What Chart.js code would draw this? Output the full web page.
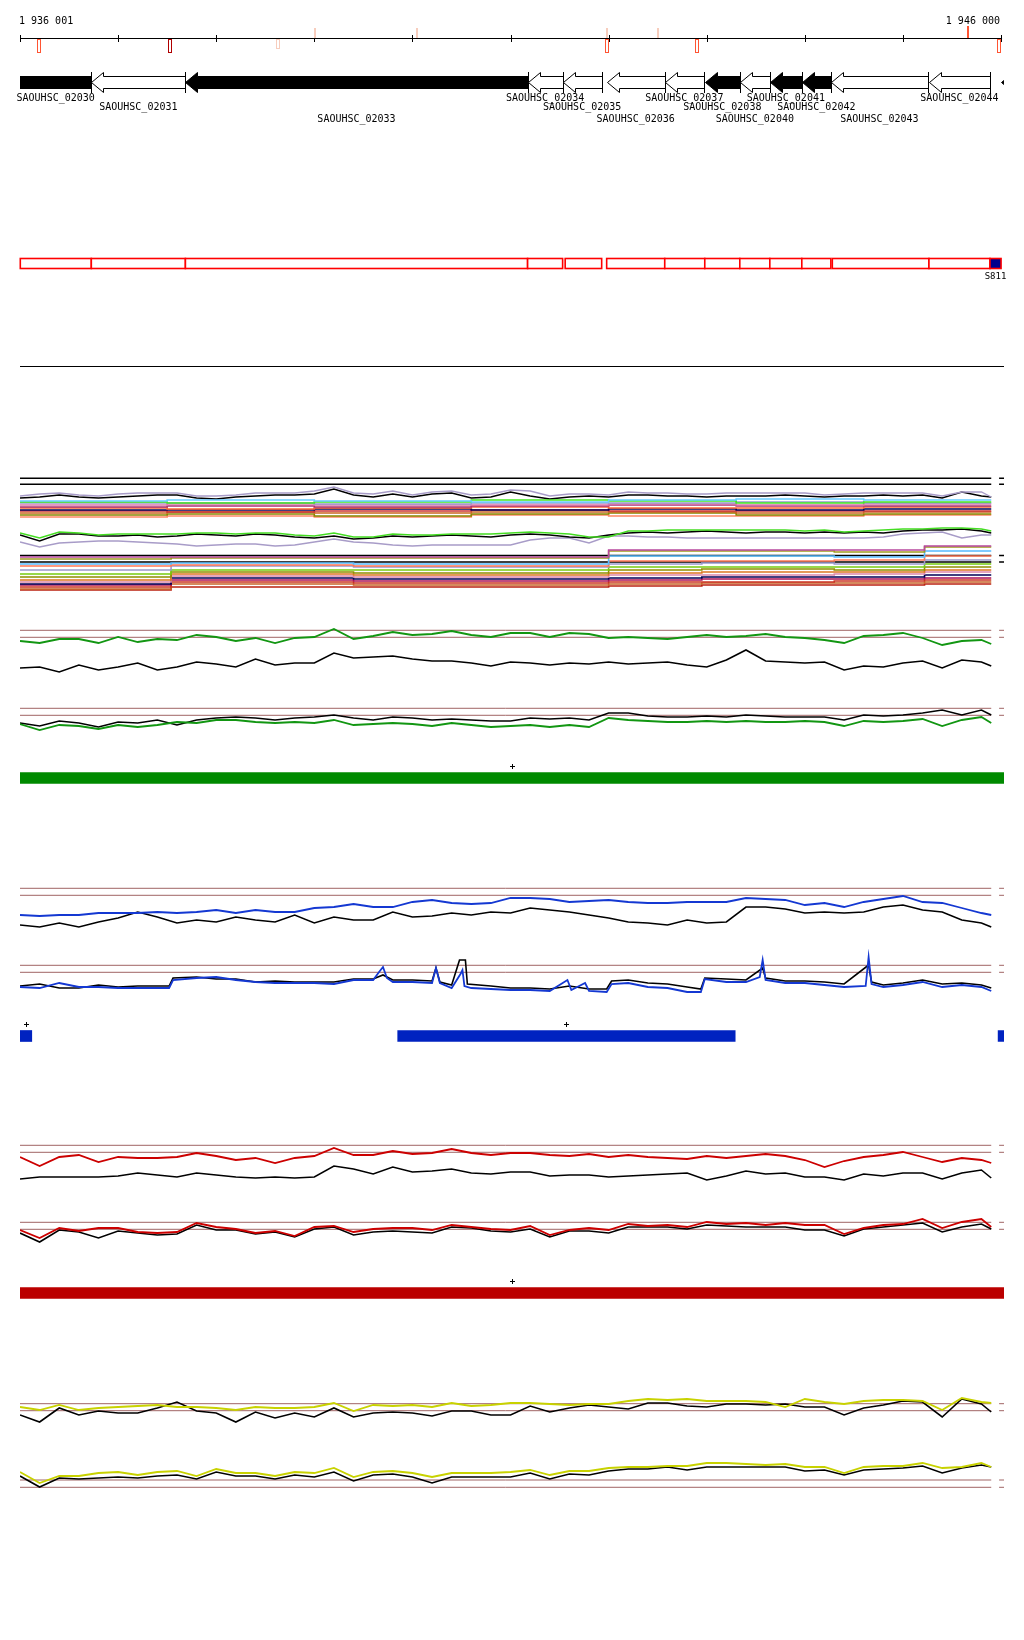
<!DOCTYPE html>
<html>
<head>
<meta charset="utf-8">
<title>SAOUHSC_02030 - SAOUHSC_02044</title>
<script src="https://cdn.jsdelivr.net/npm/chart.js"></script>
<style>
  html, body { margin: 0; padding: 0; background: #fff; }
  #page { position: relative; width: 1024px; height: 1640px; overflow: hidden; }
  #page canvas { position: absolute; left: 0; }
</style>
</head>
<body>
<div id="page"></div>
<script>
// x values are kb from the left edge of the window 1 936 001 .. 1 946 000
const regionStart = "1 936 001";
const regionEnd = "1 946 000";
const rulerTicks = [0, 1, 2, 3, 4, 5, 6, 7, 8, 9, 10];

const geneNames = ["SAOUHSC_02030", "SAOUHSC_02031", "SAOUHSC_02033", "SAOUHSC_02034", "SAOUHSC_02035",
  "SAOUHSC_02036", "SAOUHSC_02037", "SAOUHSC_02038", "SAOUHSC_02040", "SAOUHSC_02041",
  "SAOUHSC_02042", "SAOUHSC_02043", "SAOUHSC_02044", "SAOUHSC_02045"];
const geneStart = [-0.3, 0.727, 1.686, 5.174, 5.531, 5.980, 6.572, 6.980, 7.337, 7.643, 7.969, 8.265, 9.265, 10.0];
const geneEnd = [0.727, 1.686, 5.174, 5.531, 5.929, 6.572, 6.970, 7.337, 7.643, 7.969, 8.265, 9.255, 9.887, 11.0];
const geneStrand = ["-", "-", "-", "-", "-", "-", "-", "-", "-", "-", "-", "-", "-", "-"];
const geneFilled = [true, false, true, false, false, false, false, true, false, true, true, false, false, true];

// transcription start marks on the ruler
const tssPos = [0.197, 1.529, 2.630, 3.007, 4.044, 5.981, 5.981, 6.502, 6.900, 9.660, 9.984];
const tssStrand = ["-", "-", "-", "+", "+", "+", "-", "+", "-", "+", "-"];
const tssScore = [3, 4, 1, 1, 1, 1, 3, 1, 3, 3, 3];

const boxStart = [0.003, 0.727, 1.686, 5.174, 5.557, 5.980, 6.572, 6.980, 7.337, 7.643, 7.969, 8.280, 9.265, 9.887];
const boxEnd = [0.727, 1.686, 5.174, 5.531, 5.929, 6.572, 6.980, 7.337, 7.643, 7.969, 8.265, 9.265, 9.887, 10.0];
const boxKind = ["cds", "cds", "cds", "cds", "cds", "cds", "cds", "cds", "cds", "cds", "cds", "cds", "cds", "srna"];
const srnaName = "S811";

// annotation bars under each condition group (last blue one runs past the window)
const greenSegments = [[0, 10.03]];
const blueSegments = [[0, 0.12], [3.85, 7.29], [9.97, 10.6]];
const redSegments = [[0, 10.03]];

const pos = [0, 0.2, 0.4, 0.6, 0.8, 1.0, 1.2, 1.4, 1.6, 1.8, 2.0, 2.2, 2.4, 2.6, 2.8, 3.0, 3.2, 3.4, 3.6, 3.8,
  4.0, 4.2, 4.4, 4.6, 4.8, 5.0, 5.2, 5.4, 5.6, 5.8, 6.0, 6.2, 6.4, 6.6, 6.8, 7.0, 7.2, 7.4, 7.6, 7.8,
  8.0, 8.2, 8.4, 8.6, 8.8, 9.0, 9.2, 9.4, 9.6, 9.8, 9.9];

// many-condition profile
const mFlat = [121.7, 115.7, 44.5, 38];
const mWavePurple = [104,106,107,105,104,106,107,107,107,104,104,105,107,107,107,109,113,107,106,109,105,108,109,105,106,110,109,104,106,106,105,108,107,107,106,106,107,107,107,107,107,105,106,107,107,107,107,104,108,108,103];
const mWaveBlack = [102,103,105,103,102,103,104,105,105,102,101,103,104,105,105,106,111,105,103,106,103,106,107,102,103,108,104,101,103,104,103,105,105,104,104,103,104,104,104,105,104,103,104,104,105,104,105,102,108,104,103];
const mGreen = [67,62,68,67,65,66,66,66,66,67,67,66,67,67,65,64,67,63,63,66,65,65,66,66,66,67,68,67,66,63,63,69,69,70,70,70,70,70,70,70,69,70,68,69,70,71,71,72,72,71,69];
const mBlack = [65,59,66,66,64,64,65,63,64,66,65,64,66,65,63,62,64,61,62,64,63,64,65,64,63,65,66,65,63,62,65,67,68,67,68,69,68,67,68,68,67,68,67,68,67,69,70,70,71,69,67];
const mPurple = [58,53,57,58,59,59,58,57,56,54,55,56,56,54,55,58,61,58,57,55,54,55,55,55,55,55,60,62,62,57,64,64,63,63,62,62,62,62,62,62,62,62,62,62,63,66,67,68,62,65,65];
const mUpperBreaks = [0, 1.5, 3.0, 4.6, 6.0, 7.3, 8.6, 9.9];
const mUpper = [
  [99,100,99,98,100,101,100,100],
  [98,97,98,100,99,97,98,98],
  [97,97,96,97,97,98,97,97],
  [95,96,95,95,96,95,96,96],
  [93,94,93,94,95,94,94,94],
  [92,91,92,93,92,92,93,93],
  [90,90,91,90,91,90,91,91],
  [89,88,89,90,89,89,89,89],
  [87,88,87,88,88,87,88,88],
  [85,86,84,86,87,85,86,86],
  [83,84,83,85,84,84,85,85]
];
const mLowerBreaks = [0, 1.54, 3.4, 6.0, 6.95, 8.3, 9.22, 9.9];
const mLower = [
  [43,43,43,50,50,50,54,54],
  [41,42,42,49,49,48,53,53],
  [36,37,36,44,44,43,49,49],
  [34,35,34,39,39,40,44,44],
  [30,34,33,36,37,36,40,40],
  [26,30,30,33,33,33,36,36],
  [23,28,27,30,31,30,33,33],
  [20,26,25,27,28,28,30,30],
  [18,24,23,25,25,26,28,28],
  [16,22,21,22,23,23,25,25],
  [15,20,19,20,21,21,22,22],
  [13,18,17,18,18,19,20,20],
  [11,16,15,16,17,17,18,18],
  [10,13,13,14,15,15,16,16]
];

// green condition
const gLevels = [109.7, 102.7, 31.7, 24.7];
const gTopColor = [99,97,101,101,97,103,98,101,100,105,103,99,102,97,102,103,111,101,104,108,105,106,109,105,103,107,107,103,107,106,102,103,102,101,103,105,103,104,106,103,102,100,97,104,105,107,102,95,99,100,96];
const gTopBlack = [72,73,68,75,70,73,77,70,73,78,76,73,81,75,77,77,87,82,83,84,81,79,79,77,74,78,77,75,77,76,78,76,77,78,75,73,80,90,79,78,77,78,70,74,73,77,79,72,80,78,74];
const gBotColor = [16,10,15,14,11,15,13,15,18,17,20,20,18,17,18,17,20,15,16,17,16,14,17,15,13,14,15,13,15,13,22,20,19,18,18,19,18,19,18,18,19,18,14,19,18,19,21,14,20,23,17];
const gBotBlack = [17,14,19,17,13,18,17,20,15,20,22,23,22,20,22,23,25,22,20,23,22,20,21,20,19,19,22,21,22,20,27,27,24,23,23,24,23,25,24,23,23,23,20,25,24,25,27,30,25,30,25];

// blue condition
const bLevels = [121.7, 114.7, 44.7, 37.7];
const bTopColor = [95,94,95,95,97,97,97,98,97,98,100,97,100,98,98,102,103,106,103,103,108,110,107,106,107,112,112,111,108,109,110,108,107,107,108,108,108,112,111,110,105,107,103,108,111,114,108,107,102,97,95];
const bTopBlack = [85,83,87,83,88,92,98,93,87,90,88,93,90,88,95,87,93,90,90,98,93,94,97,95,98,97,102,100,98,95,92,88,87,85,90,87,88,103,103,101,97,98,97,98,103,105,100,98,90,87,83];
const bBotColor = [[0,23],[0.2,22],[0.4,27],[0.6,23],[0.8,23],[1.0,22],[1.2,22],[1.4,22],[1.52,22],[1.56,30],[1.8,32],[2.0,33],[2.2,30],[2.4,28],[2.6,27],[2.8,27],[3.0,27],[3.2,26],[3.4,30],[3.6,30],[3.66,38],[3.70,43],[3.74,32],[3.8,28],[4.0,28],[4.2,27],[4.24,42],[4.28,27],[4.4,22],[4.49,36],[4.51,40],[4.53,24],[4.6,22],[4.8,21],[5.0,20],[5.2,20],[5.4,19],[5.58,30],[5.62,20],[5.76,27],[5.80,19],[5.98,18],[6.03,26],[6.2,27],[6.4,23],[6.6,22],[6.8,18],[6.94,18],[6.98,31],[7.2,28],[7.4,28],[7.54,33],[7.57,50],[7.60,30],[7.8,27],[8.0,27],[8.2,25],[8.4,23],[8.62,24],[8.65,53],[8.68,26],[8.8,23],[9.0,25],[9.2,28],[9.4,23],[9.6,25],[9.8,23],[9.9,19]];
const bBotBlack = [[0,24],[0.2,26],[0.4,22],[0.6,22],[0.8,25],[1.0,23],[1.2,24],[1.4,24],[1.52,24],[1.56,32],[1.8,33],[2.0,31],[2.2,31],[2.4,28],[2.6,29],[2.8,28],[3.0,28],[3.2,28],[3.4,31],[3.6,31],[3.70,35],[3.8,30],[4.0,30],[4.2,29],[4.24,42],[4.28,28],[4.4,25],[4.48,50],[4.54,50],[4.56,26],[4.8,24],[5.0,22],[5.2,22],[5.4,21],[5.6,24],[5.8,21],[5.98,21],[6.03,29],[6.2,30],[6.4,27],[6.6,26],[6.8,23],[6.94,21],[6.98,32],[7.2,31],[7.4,30],[7.57,42],[7.60,32],[7.8,29],[8.0,29],[8.2,28],[8.4,26],[8.65,45],[8.68,28],[8.8,25],[9.0,27],[9.2,30],[9.4,26],[9.6,27],[9.8,25],[9.9,22]];

// red condition
const rLevels = [114.7, 107.7, 37.7, 30.7];
const rTopColor = [103,94,103,105,98,103,102,102,103,107,104,100,102,97,102,104,112,105,105,109,106,107,111,107,105,107,107,105,104,106,103,105,103,102,101,104,102,104,106,104,100,93,99,103,105,108,103,98,102,100,97];
const rTopBlack = [81,83,83,83,83,84,87,85,83,87,85,83,82,83,82,83,94,91,86,93,88,89,91,87,86,88,88,84,85,85,83,84,85,86,87,80,84,89,86,87,83,83,80,86,84,87,87,81,87,90,82];
const rBotColor = [30,22,32,29,32,32,28,27,28,37,33,31,27,29,24,33,34,28,31,32,32,30,35,33,31,30,34,25,30,32,30,36,34,35,33,38,36,37,35,37,35,35,26,32,35,36,41,32,38,41,33];
const rBotBlack = [27,18,30,28,22,29,27,25,26,35,30,30,26,28,23,31,33,25,28,29,28,27,33,32,29,28,31,23,29,29,27,33,33,33,31,35,34,33,33,33,30,30,24,31,33,35,37,28,33,36,31];

// yellow condition
const yLevels = [106.3, 99.3, 30, 22.7];
const yTopColor = [103,100,105,100,102,103,104,105,103,103,102,100,103,102,102,103,107,99,105,104,105,103,107,104,105,107,107,106,105,106,106,109,111,110,111,109,109,109,108,103,111,108,106,109,110,110,109,100,112,108,107];
const yTopBlack = [95,88,102,95,99,97,97,102,108,99,97,88,98,92,97,93,102,93,97,98,97,94,99,99,95,95,104,98,102,105,103,101,107,107,104,103,106,106,105,106,103,103,95,102,105,109,108,93,111,106,98];
const yBotColor = [38,27,34,34,37,38,35,38,39,34,41,37,37,34,38,37,42,33,38,39,37,33,37,37,37,38,40,35,39,39,42,43,43,44,44,47,47,46,45,46,43,43,37,43,44,44,47,42,43,47,43];
const yBotBlack = [34,23,32,31,32,33,32,34,35,31,38,34,34,31,35,33,38,29,35,36,33,27,33,33,33,33,37,31,36,35,39,41,41,43,40,43,43,43,43,43,39,40,35,40,41,42,44,37,42,45,43];

// ---- drawing ----
const KB_MAX = 10.03;
const LEVEL_END = 9.9;
const STUB = [9.98, 10.03];
const FONT = '"DejaVu Sans Mono", monospace';
const upperColors = ["#66ccff", "#44e622", "#9999cc", "#dd77aa", "#aa3377", "#ff6633", "#000055", "#cc3333", "#cc6622", "#888800", "#ff8866"];
const lowerColors = ["#b8489e", "#a09a20", "#55bbff", "#ff7755", "#9999cc", "#77cc11", "#8f8f00", "#dd7722", "#dd88aa", "#000055", "#aa1155", "#cc3322", "#c86428", "#bb2211"];
const tssColors = { 1: "#f7cdbd", 2: "#ffaa88", 3: "#ff5533", 4: "#b00000" };

const page = document.getElementById("page");

function addCanvas(top, height) {
  const c = document.createElement("canvas");
  c.width = 1024;
  c.height = height;
  c.style.top = top + "px";
  c.style.width = "1024px";
  c.style.height = height + "px";
  page.appendChild(c);
  return c;
}

function plainOptions(h) {
  return {
    responsive: false,
    animation: false,
    events: [],
    layout: { padding: { left: 20, right: 20, top: 0, bottom: 0 } },
    plugins: { legend: { display: false }, tooltip: { enabled: false } },
    scales: {
      x: { type: "linear", min: 0, max: KB_MAX, display: false },
      y: { type: "linear", min: 0, max: h, display: false },
    },
  };
}

function lineSet(values, color, width) {
  return { data: values.map((v, i) => ({ x: pos[i], y: v })), borderColor: color, borderWidth: width, pointRadius: 0, tension: 0, fill: false };
}
function pairSet(list, color, width) {
  return { data: list.map(p => ({ x: p[0], y: p[1] })), borderColor: color, borderWidth: width, pointRadius: 0, tension: 0, fill: false };
}
function stepSet(breaks, values, color, width) {
  return { data: values.map((v, i) => ({ x: breaks[i], y: v })), stepped: true, borderColor: color, borderWidth: width, pointRadius: 0, fill: false };
}
// reference level, with the short piece of the next window at the right edge
function flatSet(v, color, width) {
  return {
    data: [{ x: 0, y: v }, { x: LEVEL_END, y: v }, { x: STUB[0] - 0.01, y: null }, { x: STUB[0], y: v }, { x: STUB[1], y: v }],
    borderColor: color, borderWidth: width, pointRadius: 0, fill: false, spanGaps: false,
  };
}

function lineChart(top, height, datasets) {
  new Chart(addCanvas(top, height), { type: "line", data: { datasets }, options: plainOptions(height) });
}

// genes, ruler and feature boxes
const genomePlugin = {
  id: "genome",
  afterDraw(chart) {
    const ctx = chart.ctx;
    const area = chart.chartArea;
    const px = v => chart.scales.x.getPixelForValue(v);
    ctx.save();
    ctx.font = "10px " + FONT;
    ctx.fillStyle = "#000";
    ctx.fillText(regionStart, 19, 24);
    ctx.textAlign = "right";
    ctx.fillText(regionEnd, 1000, 24);

    ctx.strokeStyle = "#000";
    ctx.lineWidth = 1;
    ctx.beginPath();
    ctx.moveTo(px(0), 38.5);
    ctx.lineTo(px(10) + 1, 38.5);
    rulerTicks.forEach(t => {
      const x = Math.round(px(t)) + 0.5;
      ctx.moveTo(x, 35);
      ctx.lineTo(x, 42);
    });
    ctx.stroke();

    tssPos.forEach((p, i) => {
      const x = Math.round(px(p));
      const col = tssColors[tssScore[i]];
      if (tssStrand[i] === "+") {
        const h = tssScore[i] >= 3 ? 12 : 10;
        ctx.fillStyle = col;
        ctx.fillRect(x - 1, 38 - h, 2, h);
      } else {
        const h = tssScore[i] >= 3 ? 13 : 9;
        ctx.strokeStyle = col;
        ctx.strokeRect(x - 1.5, 39.5, 3, h);
      }
    });

    ctx.beginPath();
    ctx.rect(area.left, 0, area.right - area.left, chart.height);
    ctx.clip();

    ctx.strokeStyle = "#000";
    geneNames.forEach((name, i) => {
      const x0 = Math.round(px(geneStart[i])) + 0.5;
      const x1 = Math.round(px(geneEnd[i])) + 0.5;
      const head = Math.min(12, x1 - x0);
      ctx.beginPath();
      if (geneStrand[i] === "-") {
        ctx.moveTo(x0, 82.5);
        ctx.lineTo(x0 + head, 72.5);
        ctx.lineTo(x0 + head, 76.5);
        ctx.lineTo(x1, 76.5);
        ctx.lineTo(x1, 88.5);
        ctx.lineTo(x0 + head, 88.5);
        ctx.lineTo(x0 + head, 92.5);
      } else {
        ctx.moveTo(x1, 82.5);
        ctx.lineTo(x1 - head, 72.5);
        ctx.lineTo(x1 - head, 76.5);
        ctx.lineTo(x0, 76.5);
        ctx.lineTo(x0, 88.5);
        ctx.lineTo(x1 - head, 88.5);
        ctx.lineTo(x1 - head, 92.5);
      }
      ctx.closePath();
      ctx.fillStyle = geneFilled[i] ? "#000" : "#fff";
      ctx.fill();
      ctx.stroke();
      const xe = geneStrand[i] === "-" ? x1 : x0;
      ctx.beginPath();
      ctx.moveTo(xe, 72);
      ctx.lineTo(xe, 93);
      ctx.stroke();
    });
    ctx.restore();

    ctx.save();
    ctx.font = "10px " + FONT;
    ctx.fillStyle = "#000";
    ctx.textAlign = "center";
    const rowBase = [100.5, 110, 121.5];
    geneNames.forEach((name, i) => {
      const c = px((Math.max(geneStart[i], 0) + Math.min(geneEnd[i], KB_MAX)) / 2);
      const w = ctx.measureText(name).width;
      if (c - w / 2 < 0 || c + w / 2 > chart.width) return;
      ctx.fillText(name, c, rowBase[i % 3]);
    });

    boxStart.forEach((s, i) => {
      const x0 = px(s), x1 = px(boxEnd[i]);
      ctx.fillStyle = boxKind[i] === "srna" ? "#00008c" : "#fff";
      ctx.fillRect(x0, 258.5, x1 - x0, 10);
      ctx.strokeStyle = "#ff0000";
      ctx.lineWidth = 1.6;
      ctx.strokeRect(x0, 258.5, x1 - x0, 10);
      if (boxKind[i] === "srna") {
        ctx.font = "9px " + FONT;
        ctx.fillStyle = "#000";
        ctx.fillText(srnaName, (x0 + x1) / 2, 279);
      }
    });

    ctx.strokeStyle = "#000";
    ctx.lineWidth = 1;
    ctx.beginPath();
    ctx.moveTo(px(0), 366.5);
    ctx.lineTo(px(KB_MAX), 366.5);
    ctx.stroke();
    ctx.restore();
  },
};

new Chart(addCanvas(0, 380), {
  type: "scatter",
  data: { datasets: [] },
  options: plainOptions(380),
  plugins: [genomePlugin],
});

// "+" strand mark above every bar segment whose middle is in the window
const plusPlugin = {
  id: "plus",
  afterDatasetsDraw(chart) {
    const ctx = chart.ctx;
    const area = chart.chartArea;
    ctx.save();
    ctx.strokeStyle = "#000";
    ctx.lineWidth = 1;
    chart.getDatasetMeta(0).data.forEach(el => {
      const mid = (el.x + el.base) / 2;
      if (mid > area.right) return;
      const cx = Math.round(mid) + 0.5;
      const cy = Math.round(el.y - 12.5) + 0.5;
      ctx.beginPath();
      ctx.moveTo(cx - 2.5, cy);
      ctx.lineTo(cx + 2.5, cy);
      ctx.moveTo(cx, cy - 2.5);
      ctx.lineTo(cx, cy + 2.5);
      ctx.stroke();
    });
    ctx.restore();
  },
};

function segmentBar(top, segments, color) {
  const opts = plainOptions(60);
  opts.indexAxis = "y";
  opts.scales.y = { type: "category", display: false };
  new Chart(addCanvas(top, 60), {
    type: "bar",
    data: {
      labels: ["region"],
      datasets: [{ data: segments.map(s => ({ y: "region", x: s })), backgroundColor: color, borderWidth: 0, barThickness: 11, borderSkipped: false }],
    },
    options: opts,
    plugins: [plusPlugin],
  });
}

// many-condition block
const mSets = [];
mUpper.forEach((v, i) => mSets.push(stepSet(mUpperBreaks, v, upperColors[i], 1.6)));
mSets.push(lineSet(mGreen, "#44dd22", 1.6));
mSets.push(lineSet(mBlack, "#000", 1.4));
mSets.push(lineSet(mPurple, "#a89cc8", 1.4));
mSets.push(lineSet(mWavePurple, "#a89cc8", 1.4));
mSets.push(lineSet(mWaveBlack, "#000", 1.4));
mLower.forEach((v, i) => mSets.push(stepSet(mLowerBreaks, v, lowerColors[i], 1.6)));
mFlat.forEach(v => mSets.push(flatSet(v, "#000", 1.5)));
lineChart(470, 130, mSets);

function conditionBlock(top, height, color, levels, topColor, topBlack, botColor, botBlack, usePairs) {
  const sets = [
    lineSet(topColor, color, 1.8),
    lineSet(topBlack, "#000", 1.6),
    usePairs ? pairSet(botColor, color, 1.8) : lineSet(botColor, color, 1.8),
    usePairs ? pairSet(botBlack, "#000", 1.6) : lineSet(botBlack, "#000", 1.6),
  ];
  levels.forEach(v => sets.push(flatSet(v, "#a06464", 1)));
  lineChart(top, height, sets);
}

conditionBlock(620, 120, "#129612", gLevels, gTopColor, gTopBlack, gBotColor, gBotBlack, false);
segmentBar(748, greenSegments, "#008a00");

conditionBlock(870, 140, "#1438d2", bLevels, bTopColor, bTopBlack, bBotColor, bBotBlack, true);
segmentBar(1006, blueSegments, "#0022c0");

conditionBlock(1130, 130, "#cc0000", rLevels, rTopColor, rTopBlack, rBotColor, rBotBlack, false);
segmentBar(1263, redSegments, "#bb0000");

conditionBlock(1380, 130, "#c8d200", yLevels, yTopColor, yTopBlack, yBotColor, yBotBlack, false);
</script>
</body>
</html>
